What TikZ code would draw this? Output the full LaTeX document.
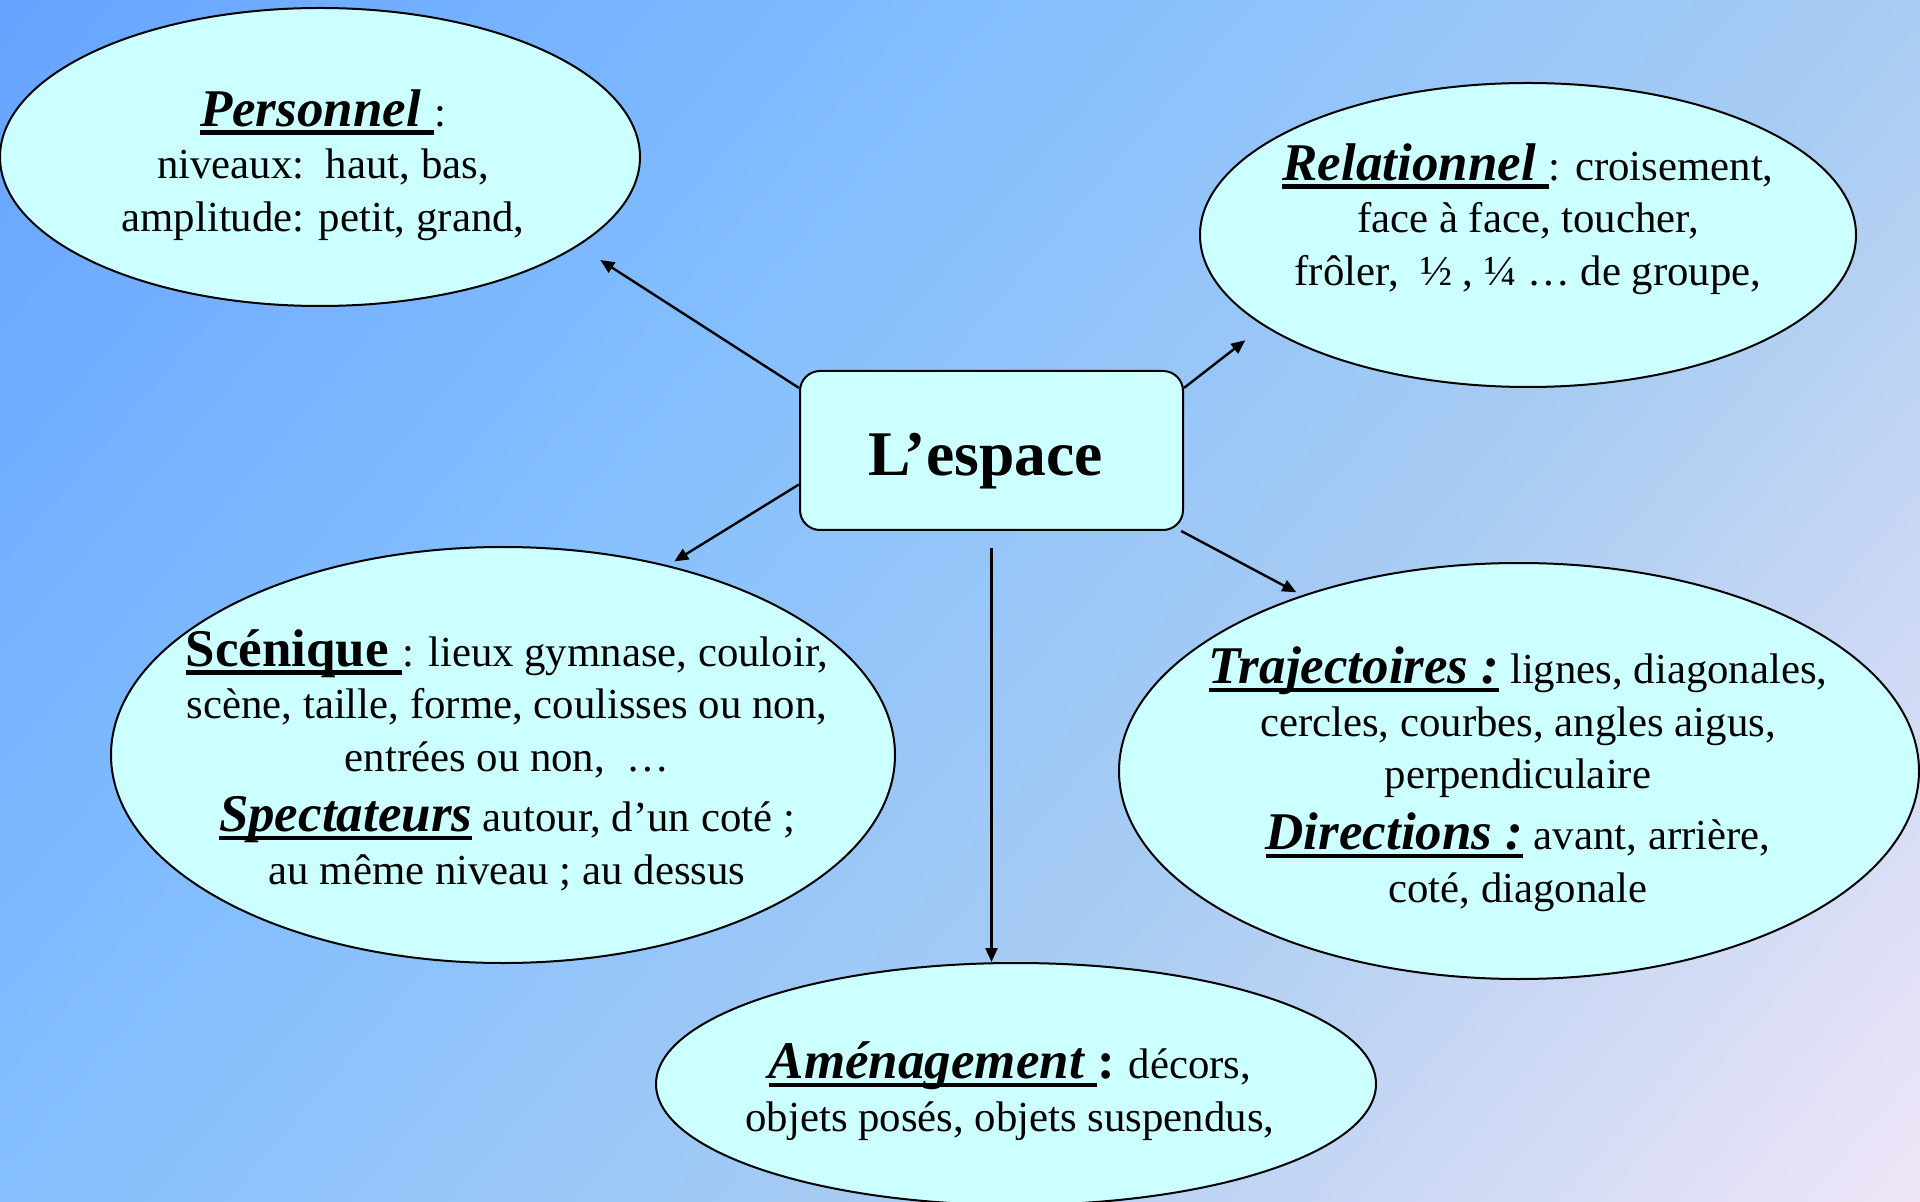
\documentclass[tikz,border=0pt]{standalone}
\usepackage{fontspec}
\setmainfont{Liberation Serif}
\usepackage{tikz}
\usetikzlibrary{arrows.meta}
\usetikzlibrary{shapes}
\definecolor{fondbulle}{RGB}{204,255,255}
\pgfdeclarehorizontalshading{fondespace}{1200bp}{rgb(0bp)=(0.40,0.64,1); rgb(392bp)=(0.52,0.75,1); rgb(728bp)=(0.66,0.80,0.95); rgb(1120bp)=(0.94,0.90,0.97)}
\newcommand{\corps}{\fontsize{21.4pt}{26.35pt}\selectfont}
\newcommand{\titre}{\fontsize{26.5pt}{26.35pt}\selectfont\bfseries}
\newcommand{\souligne}[1]{\setbox0=\hbox{#1}\rlap{\rule[-0.16em]{\wd0}{0.08em}}\box0}
\tikzstyle{bulle} = [ellipse, draw, fill=fondbulle, line width=1pt, inner sep=0pt]
\tikzstyle{cadre} = [rectangle, draw, fill=fondbulle, rounded corners=10pt, line width=1pt]
\tikzstyle{texte} = [align=center, font=\corps, inner sep=0pt]
\tikzstyle{line} = [draw, -{Triangle[length=7pt,width=6pt]}, line width=1.2pt]

\begin{document}
\begin{tikzpicture}[x=0.5pt,y=-0.5pt]
	\useasboundingbox (0,0) rectangle (1920,1202);
	\begin{scope}
		\clip (0,0) rectangle (1920,1202);
		\node[inner sep=0pt, rotate=-40.6] (fond) at (960,601) {\pgfuseshading{fondespace}};
	\end{scope}

	% ------------------- Centre ------------------- %
	\node[cadre, minimum width=191.5pt, minimum height=79.5pt, font=\fontsize{31.8pt}{37pt}\selectfont\bfseries] (espace) at (991.5,450.5) {\kern-6pt\raisebox{-5.5pt}[\height][\depth]{L’espace}};

	% ------------------- Bulles ------------------- %
	\node[bulle, minimum width=320pt, minimum height=149pt] (perso) at (320,157) {};
	\node[bulle, minimum width=328pt, minimum height=152pt] (relat) at (1528,235) {};
	\node[bulle, minimum width=392pt, minimum height=208pt] (sceni) at (503,755) {};
	\node[bulle, minimum width=400pt, minimum height=208pt] (traje) at (1519,771) {};
	\node[bulle, minimum width=360pt, minimum height=121pt] (amena) at (1016,1084) {};

	\node[texte] (persot) at (323,165) {{\titre\souligne{\itshape Personnel }}:\\
		niveaux:\ \ haut, bas,\\
		amplitude: petit, grand,};
	\node[texte] (relatt) at (1528,219) {{\titre\souligne{\itshape Relationnel }}: croisement,\\
		face à face, toucher,\\
		frôler,\ \ ½ , ¼ … de groupe,};
	\node[texte] (scenit) at (507,760) {{\titre\souligne{Scénique }}: lieux gymnase, couloir,\\
		scène, taille, forme, coulisses ou non,\\
		entrées ou non,\ \ …\\[3.7pt]
		{\titre\souligne{\itshape Spectateurs}} autour, d’un coté ;\\
		au même niveau ; au dessus};
	\node[texte] (trajet) at (1518,779) {{\titre\souligne{\itshape Trajectoires :}} lignes, diagonales,\\
		cercles, courbes, angles aigus,\\
		perpendiculaire\\[4pt]
		{\titre\souligne{\itshape Directions :}} avant, arrière,\\
		coté, diagonale};
	\node[texte] (amenat) at (1010,1091) {{\titre\souligne{\itshape Aménagement }:} décors,\\
		objets posés, objets suspendus,};

	% ------------------- Fleches ------------------- %
	\path[line, shorten >=13pt] (espace.162) -- (perso.-19.6);
	\path[line, shorten >=11.6pt] (espace.18) -- (relat.199.3);
	\path[line, shorten >=3.7pt] (espace.190) -- (sceni.49);
	\path[line, shorten >=3.2pt] (espace.-23) -- (traje.141.6);
	\path[line, shorten <=8.5pt] (espace.south) -- (espace.south |- amena.north);
\end{tikzpicture}
\end{document}
